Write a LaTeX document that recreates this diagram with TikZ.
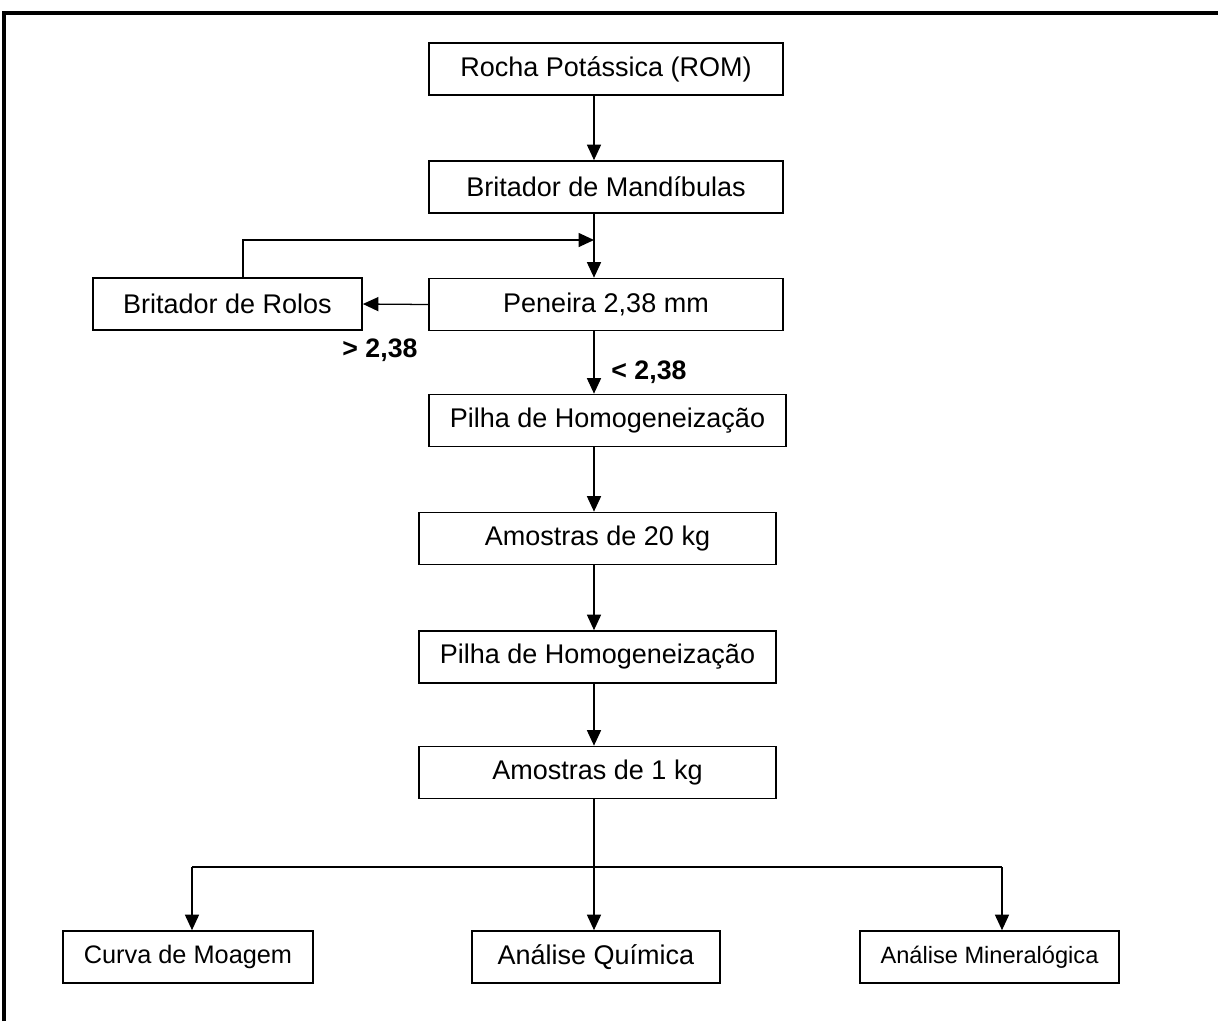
\documentclass[tikz,border=0pt]{standalone}
\usepackage{fontspec}
\setmainfont{Liberation Sans}
\usetikzlibrary{arrows.meta}

\begin{document}
\begin{tikzpicture}[x=0.025cm,y=-0.025cm,
	caixa/.style={draw,line width=1.2pt,minimum height=1.3cm,font=\fontsize{19.2}{22}\selectfont},
	seta/.style={line width=0.9pt,-{Triangle[length=11pt,width=10pt]}},
	rotulo/.style={font=\fontsize{19}{22}\selectfont\bfseries}]
	\useasboundingbox (0,0) rectangle (1218,1021);
	\draw[line width=2.2pt] (4,1021) -- (4,13) -- (1218,13);
	% etapas
	\node[caixa,minimum width=8.85cm] (rom) at (606,69) {Rocha Potássica (ROM)};
	\node[caixa,minimum width=8.85cm] (mand) at (606,187) {Britador de Mandíbulas};
	\node[caixa,minimum width=8.85cm] (pen) at (606,304.5) {Peneira 2,38 mm};
	\node[caixa,minimum width=6.725cm] (rolos) at (227.5,304) {Britador de Rolos};
	\node[caixa,minimum width=8.925cm] (pilha1) at (607.5,420.5) {Pilha de Homogeneização};
	\node[caixa,minimum width=8.925cm] (am20) at (597.5,538.5) {Amostras de 20 kg};
	\node[caixa,minimum width=8.925cm] (pilha2) at (597.5,657) {Pilha de Homogeneização};
	\node[caixa,minimum width=8.925cm] (am1) at (597.5,772.5) {Amostras de 1 kg};
	\node[caixa,minimum width=6.25cm,font=\fontsize{18}{21}\selectfont] (curva) at (188,957) {Curva de Moagem};
	\node[caixa,minimum width=6.2cm] (quim) at (596,957) {Análise Química};
	\node[caixa,minimum width=6.475cm,font=\fontsize{16.8}{20}\selectfont] (miner) at (989.5,957) {Análise Mineralógica};
	\node[rotulo] (maior) at (380,350) {> 2,38};
	\node[rotulo] (menor) at (649,372) {< 2,38};
	% ligacoes
	\coordinate (espinha) at (594,0);
	\coordinate (retorno) at (243,240);
	\coordinate (ramo) at (594,867);
	\coordinate (ramoE) at (192,867);
	\coordinate (ramoD) at (1002,867);
	\foreach \de/\para in {rom/mand,mand/pen,pen/pilha1,pilha1/am20,am20/pilha2,pilha2/am1}
		\draw[seta] (\de.south -| espinha) -- (\para.north -| espinha);
	\draw[seta] (pen.west) -- (rolos.east);
	\draw[seta] (rolos.north -| retorno) |- (espinha |- retorno);
	\draw[line width=0.9pt] (am1.south -| espinha) -- (ramo);
	\draw[line width=0.9pt] (ramoE) -- (ramoD);
	\foreach \ponto/\alvo in {ramoE/curva,ramo/quim,ramoD/miner}
		\draw[seta] (\ponto) -- (\alvo.north -| \ponto);
\end{tikzpicture}
\end{document}
